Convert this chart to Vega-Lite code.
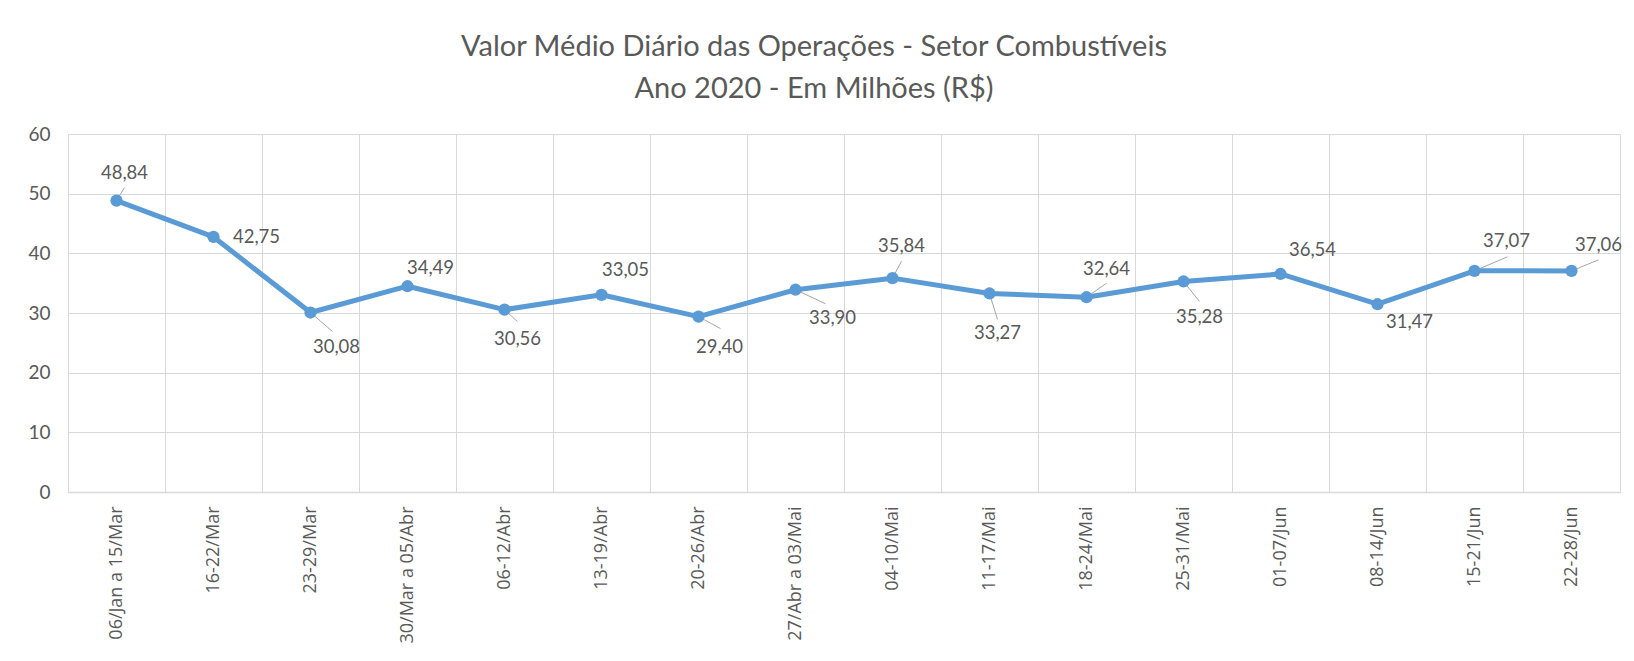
{
  "$schema": "https://vega.github.io/schema/vega-lite/v6.json",
  "width": 1552,
  "height": 358,
  "autosize": {"type": "none"},
  "padding": {"left": 68, "top": 134, "right": 14, "bottom": 169},
  "background": "white",
  "config": {
    "locale": {"number": {"decimal": ",", "thousands": ".", "grouping": [3], "currency": ["R$", ""]}},
    "view": {"stroke": null},
    "font": "Lato"
  },
  "title": {
    "text": ["Valor Médio Diário das Operações - Setor Combustíveis", "Ano 2020 - Em Milhões (R$)"],
    "font": "Lato",
    "fontSize": 29,
    "fontWeight": "normal",
    "color": "#595959",
    "lineHeight": 42,
    "anchor": "middle",
    "dx": -30,
    "offset": 21
  },
  "data": {
    "values": [
      {"semana": "06/Jan a 15/Mar", "valor": 48.84},
      {"semana": "16-22/Mar", "valor": 42.75},
      {"semana": "23-29/Mar", "valor": 30.08},
      {"semana": "30/Mar a 05/Abr", "valor": 34.49},
      {"semana": "06-12/Abr", "valor": 30.56},
      {"semana": "13-19/Abr", "valor": 33.05},
      {"semana": "20-26/Abr", "valor": 29.40},
      {"semana": "27/Abr a 03/Mai", "valor": 33.90},
      {"semana": "04-10/Mai", "valor": 35.84},
      {"semana": "11-17/Mai", "valor": 33.27},
      {"semana": "18-24/Mai", "valor": 32.64},
      {"semana": "25-31/Mai", "valor": 35.28},
      {"semana": "01-07/Jun", "valor": 36.54},
      {"semana": "08-14/Jun", "valor": 31.47},
      {"semana": "15-21/Jun", "valor": 37.07},
      {"semana": "22-28/Jun", "valor": 37.06}
    ]
  },
  "encoding": {
    "x": {
      "field": "semana", "type": "nominal",
      "sort": ["06/Jan a 15/Mar", "16-22/Mar", "23-29/Mar", "30/Mar a 05/Abr", "06-12/Abr", "13-19/Abr", "20-26/Abr", "27/Abr a 03/Mai", "04-10/Mai", "11-17/Mai", "18-24/Mai", "25-31/Mai", "01-07/Jun", "08-14/Jun", "15-21/Jun", "22-28/Jun"],
      "scale": {"type": "band", "paddingInner": 0, "paddingOuter": 0},
      "axis": {
        "title": null, "labelAngle": -90, "labelFont": "Open Sans", "labelFontSize": 18,
        "labelColor": "#595959", "ticks": false, "labelPadding": 14, "tickBand": "extent",
        "grid": true, "gridColor": "#d9d9d9", "gridWidth": 1, "domainColor": "#d9d9d9", "domainWidth": 1.3
      }
    },
    "y": {
      "field": "valor", "type": "quantitative",
      "scale": {"domain": [0, 60], "nice": false},
      "axis": {
        "title": null, "values": [0, 10, 20, 30, 40, 50, 60], "labelFont": "Lato", "labelFontSize": 19,
        "labelColor": "#595959", "ticks": false, "labelPadding": 18, "grid": true, "gridColor": "#d9d9d9",
        "domain": false
      }
    }
  },
  "layer": [
    {"transform": [{"filter": "datum.semana == '06/Jan a 15/Mar'"}], "mark": {"type": "rule", "color": "#a6a6a6", "strokeWidth": 1, "x2Offset": 8, "y2Offset": -13}, "encoding": {"x2": {"field": "semana"}, "y2": {"field": "valor"}}},
    {"transform": [{"filter": "datum.semana == '23-29/Mar'"}], "mark": {"type": "rule", "color": "#a6a6a6", "strokeWidth": 1, "x2Offset": 22, "y2Offset": 19}, "encoding": {"x2": {"field": "semana"}, "y2": {"field": "valor"}}},
    {"transform": [{"filter": "datum.semana == '06-12/Abr'"}], "mark": {"type": "rule", "color": "#a6a6a6", "strokeWidth": 1, "x2Offset": 13, "y2Offset": 12}, "encoding": {"x2": {"field": "semana"}, "y2": {"field": "valor"}}},
    {"transform": [{"filter": "datum.semana == '20-26/Abr'"}], "mark": {"type": "rule", "color": "#a6a6a6", "strokeWidth": 1, "x2Offset": 22, "y2Offset": 12}, "encoding": {"x2": {"field": "semana"}, "y2": {"field": "valor"}}},
    {"transform": [{"filter": "datum.semana == '27/Abr a 03/Mai'"}], "mark": {"type": "rule", "color": "#a6a6a6", "strokeWidth": 1, "x2Offset": 30, "y2Offset": 14}, "encoding": {"x2": {"field": "semana"}, "y2": {"field": "valor"}}},
    {"transform": [{"filter": "datum.semana == '04-10/Mai'"}], "mark": {"type": "rule", "color": "#a6a6a6", "strokeWidth": 1, "x2Offset": 9, "y2Offset": -17}, "encoding": {"x2": {"field": "semana"}, "y2": {"field": "valor"}}},
    {"transform": [{"filter": "datum.semana == '11-17/Mai'"}], "mark": {"type": "rule", "color": "#a6a6a6", "strokeWidth": 1, "x2Offset": 8, "y2Offset": 26}, "encoding": {"x2": {"field": "semana"}, "y2": {"field": "valor"}}},
    {"transform": [{"filter": "datum.semana == '18-24/Mai'"}], "mark": {"type": "rule", "color": "#a6a6a6", "strokeWidth": 1, "x2Offset": 20, "y2Offset": -14}, "encoding": {"x2": {"field": "semana"}, "y2": {"field": "valor"}}},
    {"transform": [{"filter": "datum.semana == '25-31/Mai'"}], "mark": {"type": "rule", "color": "#a6a6a6", "strokeWidth": 1, "x2Offset": 16, "y2Offset": 20}, "encoding": {"x2": {"field": "semana"}, "y2": {"field": "valor"}}},
    {"transform": [{"filter": "datum.semana == '15-21/Jun'"}], "mark": {"type": "rule", "color": "#a6a6a6", "strokeWidth": 1, "x2Offset": 33, "y2Offset": -14}, "encoding": {"x2": {"field": "semana"}, "y2": {"field": "valor"}}},
    {"transform": [{"filter": "datum.semana == '22-28/Jun'"}], "mark": {"type": "rule", "color": "#a6a6a6", "strokeWidth": 1, "x2Offset": 27, "y2Offset": -11}, "encoding": {"x2": {"field": "semana"}, "y2": {"field": "valor"}}},
    {"mark": {"type": "line", "color": "#5b9bd5", "strokeWidth": 5, "strokeJoin": "round"}, "encoding": {}},
    {"mark": {"type": "point", "filled": true, "color": "#5b9bd5", "size": 150, "opacity": 1}, "encoding": {}},
    {"transform": [{"filter": "datum.semana == '06/Jan a 15/Mar'"}], "mark": {"type": "text", "dx": 8, "dy": -28, "fontSize": 18.5, "color": "#595959"}, "encoding": {"text": {"field": "valor", "type": "quantitative", "format": ".2f"}}},
    {"transform": [{"filter": "datum.semana == '16-22/Mar'"}], "mark": {"type": "text", "dx": 43, "dy": 0, "fontSize": 18.5, "color": "#595959"}, "encoding": {"text": {"field": "valor", "type": "quantitative", "format": ".2f"}}},
    {"transform": [{"filter": "datum.semana == '23-29/Mar'"}], "mark": {"type": "text", "dx": 26, "dy": 34, "fontSize": 18.5, "color": "#595959"}, "encoding": {"text": {"field": "valor", "type": "quantitative", "format": ".2f"}}},
    {"transform": [{"filter": "datum.semana == '30/Mar a 05/Abr'"}], "mark": {"type": "text", "dx": 23, "dy": -18, "fontSize": 18.5, "color": "#595959"}, "encoding": {"text": {"field": "valor", "type": "quantitative", "format": ".2f"}}},
    {"transform": [{"filter": "datum.semana == '06-12/Abr'"}], "mark": {"type": "text", "dx": 13, "dy": 29, "fontSize": 18.5, "color": "#595959"}, "encoding": {"text": {"field": "valor", "type": "quantitative", "format": ".2f"}}},
    {"transform": [{"filter": "datum.semana == '13-19/Abr'"}], "mark": {"type": "text", "dx": 24, "dy": -25, "fontSize": 18.5, "color": "#595959"}, "encoding": {"text": {"field": "valor", "type": "quantitative", "format": ".2f"}}},
    {"transform": [{"filter": "datum.semana == '20-26/Abr'"}], "mark": {"type": "text", "dx": 21, "dy": 30, "fontSize": 18.5, "color": "#595959"}, "encoding": {"text": {"field": "valor", "type": "quantitative", "format": ".2f"}}},
    {"transform": [{"filter": "datum.semana == '27/Abr a 03/Mai'"}], "mark": {"type": "text", "dx": 37, "dy": 28, "fontSize": 18.5, "color": "#595959"}, "encoding": {"text": {"field": "valor", "type": "quantitative", "format": ".2f"}}},
    {"transform": [{"filter": "datum.semana == '04-10/Mai'"}], "mark": {"type": "text", "dx": 9, "dy": -32, "fontSize": 18.5, "color": "#595959"}, "encoding": {"text": {"field": "valor", "type": "quantitative", "format": ".2f"}}},
    {"transform": [{"filter": "datum.semana == '11-17/Mai'"}], "mark": {"type": "text", "dx": 8, "dy": 40, "fontSize": 18.5, "color": "#595959"}, "encoding": {"text": {"field": "valor", "type": "quantitative", "format": ".2f"}}},
    {"transform": [{"filter": "datum.semana == '18-24/Mai'"}], "mark": {"type": "text", "dx": 20, "dy": -28, "fontSize": 18.5, "color": "#595959"}, "encoding": {"text": {"field": "valor", "type": "quantitative", "format": ".2f"}}},
    {"transform": [{"filter": "datum.semana == '25-31/Mai'"}], "mark": {"type": "text", "dx": 16, "dy": 36, "fontSize": 18.5, "color": "#595959"}, "encoding": {"text": {"field": "valor", "type": "quantitative", "format": ".2f"}}},
    {"transform": [{"filter": "datum.semana == '01-07/Jun'"}], "mark": {"type": "text", "dx": 32, "dy": -24, "fontSize": 18.5, "color": "#595959"}, "encoding": {"text": {"field": "valor", "type": "quantitative", "format": ".2f"}}},
    {"transform": [{"filter": "datum.semana == '08-14/Jun'"}], "mark": {"type": "text", "dx": 32, "dy": 18, "fontSize": 18.5, "color": "#595959"}, "encoding": {"text": {"field": "valor", "type": "quantitative", "format": ".2f"}}},
    {"transform": [{"filter": "datum.semana == '15-21/Jun'"}], "mark": {"type": "text", "dx": 32, "dy": -30, "fontSize": 18.5, "color": "#595959"}, "encoding": {"text": {"field": "valor", "type": "quantitative", "format": ".2f"}}},
    {"transform": [{"filter": "datum.semana == '22-28/Jun'"}], "mark": {"type": "text", "dx": 27, "dy": -26, "fontSize": 18.5, "color": "#595959"}, "encoding": {"text": {"field": "valor", "type": "quantitative", "format": ".2f"}}}
  ]
}
